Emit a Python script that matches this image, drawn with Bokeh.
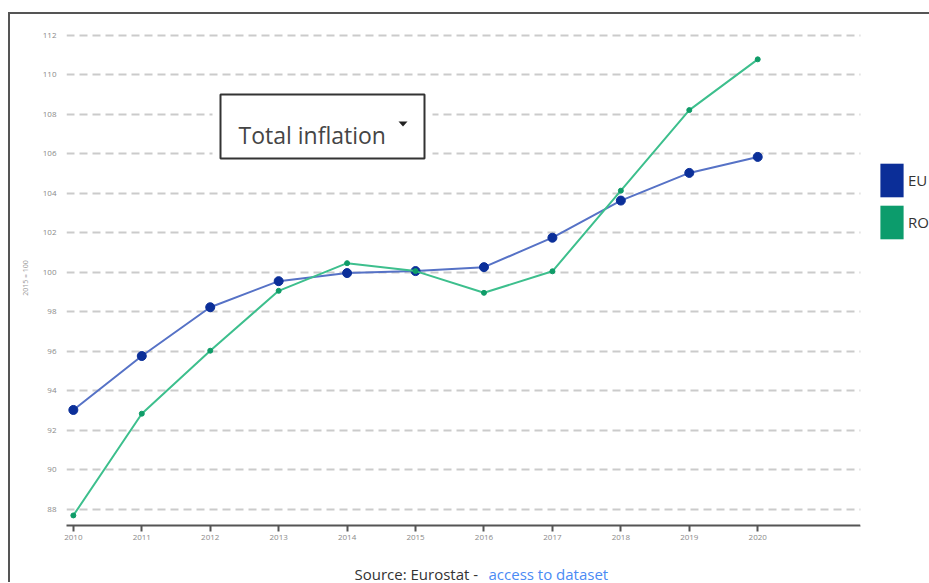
from bokeh.plotting import figure
from bokeh.layouts import column
from bokeh.models import (Range1d, FixedTicker, Legend, LegendItem, Label,
                          BoxAnnotation, PolyAnnotation)
from bokeh.embed import file_html
from bokeh.resources import INLINE

# ---- data ----
years = [2010, 2011, 2012, 2013, 2014, 2015, 2016, 2017, 2018, 2019, 2020]
eu = [93.02, 95.75, 98.22, 99.54, 99.95, 100.05, 100.25, 101.74, 103.62, 105.02, 105.83]
ro = [87.68, 92.83, 96.02, 99.05, 100.45, 100.05, 98.95, 100.04, 104.12, 108.20, 110.77]
series_names = ["EU", "RO"]
y_ticks = [88, 90, 92, 94, 96, 98, 100, 102, 104, 106, 108, 110, 112]
y_title = "2015 = 100"
dropdown_text = "Total inflation"
source_text = "Source: Eurostat -"
link_text = "access to dataset"

FONT = "Open Sans"
EU_LINE, EU_DOT, EU_KEY = "#5672c6", "#0b2f99", "#0b2e98"
RO_LINE, RO_DOT, RO_KEY = "#3dbf8d", "#0f9c68", "#0c9c6c"

AXIS_START, AXIS_END, VIEW_END = 2009.9, 2021.5, 2022.51

p = figure(width=919, height=536, output_backend="svg", toolbar_location=None,
           x_range=Range1d(AXIS_START, VIEW_END), y_range=Range1d(87.17, 112.23),
           min_border_left=56, min_border_right=0, min_border_top=16,
           min_border_bottom=25)
p.outline_line_color = None
p.background_fill_color = "white"
p.border_fill_color = "white"

# axes
p.xaxis.ticker = FixedTicker(ticks=years)
p.yaxis.ticker = FixedTicker(ticks=y_ticks)
for ax in (p.xaxis[0], p.yaxis[0]):
    ax.major_label_text_font = FONT
    ax.major_label_text_font_size = "8px"
    ax.major_label_text_color = "#8a8a8a"
    ax.minor_tick_line_color = None
p.xaxis.bounds = (AXIS_START, AXIS_END)
p.xaxis.axis_line_color = "#555555"
p.xaxis.axis_line_width = 2
p.xaxis.major_tick_line_color = "#555555"
p.xaxis.major_tick_line_width = 2
p.xaxis.major_tick_in = 0
p.xaxis.major_tick_out = 6
p.xaxis.major_label_standoff = 3
p.yaxis.axis_line_color = None
p.yaxis.major_tick_line_color = None
p.yaxis.major_tick_in = 0
p.yaxis.major_tick_out = 0
p.yaxis.major_label_standoff = 10
p.yaxis.axis_label = y_title
p.yaxis.axis_label_text_font = FONT
p.yaxis.axis_label_text_font_size = "7px"
p.yaxis.axis_label_text_font_style = "normal"
p.yaxis.axis_label_text_color = "#9a9a9a"
p.yaxis.axis_label_standoff = 10

p.xgrid.grid_line_color = None
p.ygrid.grid_line_color = "#cbcbcb"
p.ygrid.grid_line_width = 2
p.ygrid.grid_line_dash = "8 5"

# series
p.line(years, eu, line_color=EU_LINE, line_width=2)
p.scatter(years, eu, size=9, fill_color=EU_DOT, line_color=EU_DOT)
p.line(years, ro, line_color=RO_LINE, line_width=2)
p.scatter(years, ro, size=5, fill_color=RO_DOT, line_color=RO_DOT)

# blank strip right of the plotting area (where the legend sits)
p.add_layout(BoxAnnotation(left=AXIS_END, right=VIEW_END + 1,
                           bottom=80, top=120,
                           fill_color="white", fill_alpha=1, line_color=None))

# legend keys (zero-width bars, used only for the legend swatches)
k_eu = p.vbar(x=years, top=eu, width=0, fill_color=EU_KEY, line_color=None)
k_ro = p.vbar(x=years, top=ro, width=0, fill_color=RO_KEY, line_color=None)
legend = Legend(items=[LegendItem(label=series_names[0], renderers=[k_eu]),
                       LegendItem(label=series_names[1], renderers=[k_ro])],
                location=(811, 282), orientation="vertical",
                glyph_width=29, glyph_height=42, spacing=0, padding=0, margin=0,
                label_standoff=2, border_line_color=None,
                background_fill_alpha=0, label_text_font=FONT,
                label_text_font_size="15px", label_text_color="#333333",
                click_policy="none")
p.add_layout(legend, "center")

# dropdown-like box
p.add_layout(BoxAnnotation(left=146, right=366, bottom=359, top=439,
                           left_units="screen", right_units="screen",
                           bottom_units="screen", top_units="screen",
                           fill_color="white", fill_alpha=1, line_color=None))
p.add_layout(BoxAnnotation(left=154, right=358, bottom=367, top=431,
                           left_units="screen", right_units="screen",
                           bottom_units="screen", top_units="screen",
                           fill_color="white", fill_alpha=1,
                           line_color="#333333", line_alpha=1, line_width=2))
p.add_layout(Label(x=172, y=391, x_units="screen", y_units="screen",
                   text=dropdown_text, text_font=FONT, text_font_size="23px",
                   text_color="#454545", text_baseline="alphabetic"))
p.add_layout(PolyAnnotation(xs=[332, 341, 336.5], ys=[404, 404, 399],
                            xs_units="screen", ys_units="screen",
                            fill_color="#222222", fill_alpha=1, line_color=None))

# source line (separate strip below the chart; its frame is aligned with p's)
p2 = figure(width=919, height=32, output_backend="svg", toolbar_location=None,
            x_range=Range1d(0, 1), y_range=Range1d(0, 1),
            x_axis_type=None, y_axis_type=None, min_border=0)
p2.outline_line_color = None
p2.grid.visible = False
p2.add_layout(Label(x=288, y=9, x_units="screen", y_units="screen",
                    text=source_text, text_font=FONT, text_font_size="15px",
                    text_color="#333333", text_baseline="alphabetic"))
p2.add_layout(Label(x=422, y=9, x_units="screen", y_units="screen",
                    text=link_text, text_font=FONT, text_font_size="15px",
                    text_color="#4a8af4", text_baseline="alphabetic"))

layout = column(p, p2, spacing=0,
                styles={"margin-left": "8px", "margin-top": "12px",
                        "border-left": "2px solid #555555",
                        "border-top": "2px solid #555555"})

open("out.html", "w").write(file_html(layout, INLINE))
